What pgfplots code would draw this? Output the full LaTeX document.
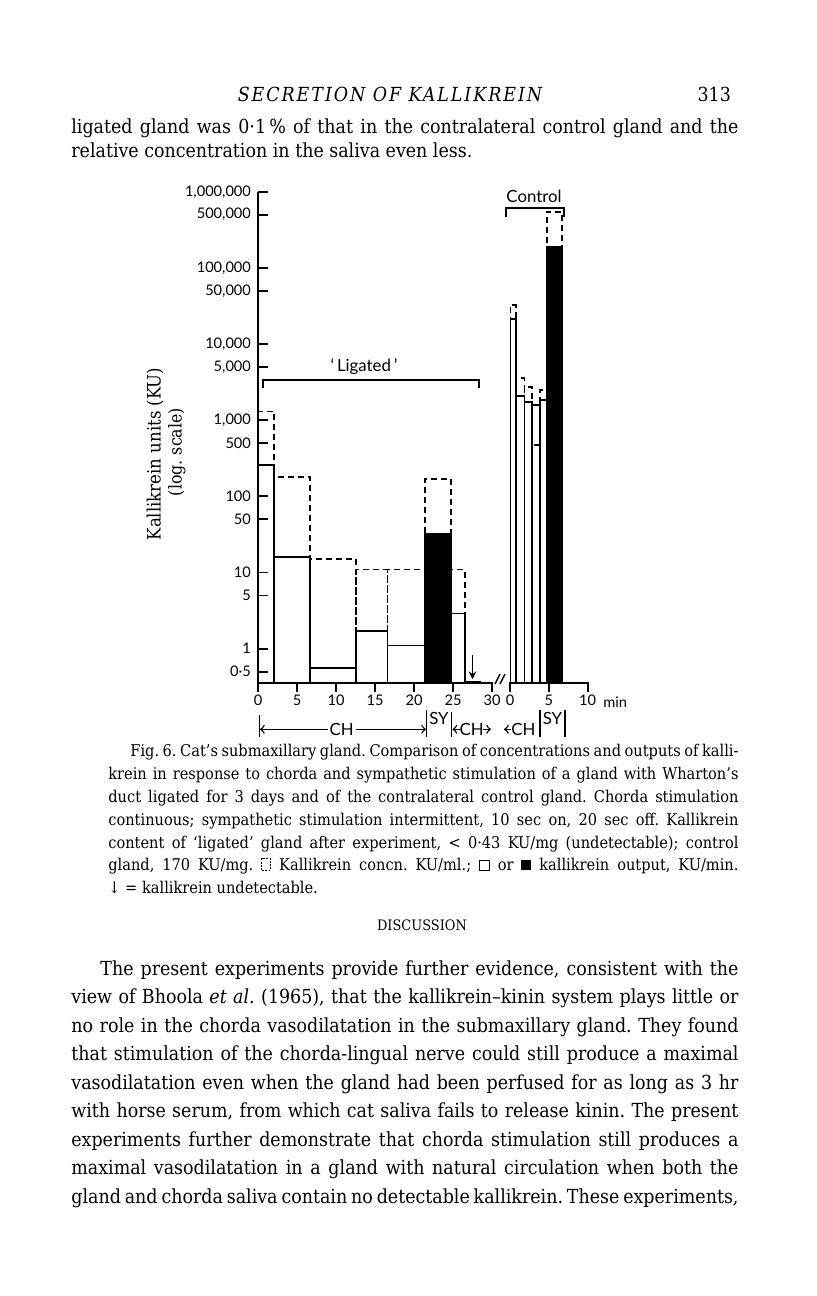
\documentclass[border=0pt]{standalone}
\usepackage{fontspec}
\setmainfont{DejaVu Serif Condensed}
\newfontfamily\chartfont{Lato}
\usepackage{pgfplots}
\pgfplotsset{compat=1.18}
\frenchspacing

\newcommand\bodyfs{\fontsize{9.7}{12}\selectfont}
\newcommand\capfs{\fontsize{8.1}{9.5}\selectfont}
\newcommand\lblfs{\chartfont\fontsize{7.3}{8.5}\selectfont}
\newcommand\annfs{\chartfont\fontsize{8.4}{9.5}\selectfont}
% justified line: x, y, width, text
\newcommand\bl[4]{\node[anchor=base west,inner sep=0pt,font=\bodyfs] at (#1,#2) {\makebox[#3][s]{#4}};}
\newcommand\cl[4]{\node[anchor=base west,inner sep=0pt,font=\capfs] at (#1,#2) {\makebox[#3][s]{#4}};}
\newcommand\concbox{\tikz[baseline=0pt]\draw[line width=0.4pt,dash pattern=on 0.9pt off 0.7pt] (0pt,0pt) rectangle (4.6pt,5.6pt);}
\newcommand\openbox{\tikz[baseline=0pt]\draw[line width=0.4pt] (0pt,0pt) rectangle (5pt,5pt);}
\newcommand\fullbox{\tikz[baseline=0pt]\fill (0pt,0pt) rectangle (5pt,5pt);}
% one bar: style, from, to, value (bottom at the axis floor 0.355)
\newcommand\kbar[4]{\addplot[#1] coordinates {(#2,0.355)(#2,#4)(#3,#4)(#3,0.355)};}

\tikzset{
  kout/.style={draw=black, fill=white, line width=0.9pt},
  ksy/.style={draw=black, fill=black, line width=0.9pt},
  kconc/.style={draw=black, line width=0.9pt, dash pattern=on 3pt off 2pt},
}

\begin{document}
\begin{tikzpicture}
\begin{scope}[x=0.5pt,y=0.5pt]
\path[fill=white] (0,0) rectangle (816,-1296);

% running head
\node[anchor=base,font=\bodyfs] at (390,-101) {\itshape\addfontfeature{LetterSpace=10}SECRETION OF KALLIKREIN};
\node[anchor=base east,font=\bodyfs] at (738,-101) {313};

\bl{71}{-133}{333.5pt}{ligated gland was 0·1\,\% of that in the contralateral control gland and the}
\node[anchor=base west,inner sep=0pt,font=\bodyfs] at (71,-157) {relative concentration in the saliva even less.};
\end{scope}

% ---------------- chart: 'ligated' gland ----------------
\begin{axis}[
    at={(129pt,-341.5pt)}, anchor=south west,
    scale only axis, width=117pt, height=245.65pt,
    ymode=log, ymin=0.355, ymax=1000000,
    xmin=0, xmax=30,
    axis on top,
    axis x line=bottom, axis y line=left,
    axis line style={-, line width=0.9pt},
    tick style={black, line width=0.9pt},
    tick align=inside,
    major tick length=5pt,
    xtick style={yshift=-4.5pt},
    yminorticks=false,
    tick label style={font=\lblfs},
    xticklabel style={yshift=-2.5pt},
    xtick={0,5,10,15,20,25,30},
    xticklabels={0,5,10,15,20,25,30},
    ytick={0.5,1,5,10,50,100,500,1000,5000,10000,50000,100000,500000,1000000},
    yticklabels={{0·5},1,5,10,50,100,500,{1,000},{5,000},{10,000},{50,000},{100,000},{500,000},{1,000,000}},
]
% output, KU/min
\kbar{kout}{0}{2.05}{260}
\kbar{kout}{2.05}{6.7}{16}
\kbar{kout}{6.7}{12.6}{0.56}
\kbar{kout}{12.6}{16.6}{1.7}
\kbar{kout}{16.6}{21.4}{1.1}
\kbar{ksy}{21.4}{24.7}{32}
\kbar{kout}{24.7}{26.5}{2.9}
% concentration, KU/ml
\kbar{kconc}{0}{2.05}{1300}
\kbar{kconc}{2.05}{6.7}{180}
\kbar{kconc}{6.7}{12.6}{15}
\kbar{kconc}{12.6}{16.6}{11}
\kbar{kconc}{16.6}{21.4}{11}
\kbar{kconc}{21.4}{24.7}{170}
\kbar{kconc}{24.7}{26.5}{11}
% undetectable
\addplot[line width=0.9pt] coordinates {(26.5,0.372)(28.6,0.372)};
\addplot[-stealth, line width=0.7pt] coordinates {(27.5,0.82)(27.5,0.40)};
\end{axis}

% ---------------- chart: control gland ----------------
\begin{axis}[
    at={(255pt,-341.5pt)}, anchor=south west,
    scale only axis, width=38.85pt, height=245.65pt,
    ymode=log, ymin=0.355, ymax=1000000,
    xmin=0, xmax=10,
    axis on top,
    axis x line=bottom, axis y line=none, ytick=\empty,
    axis line style={-, line width=0.9pt},
    tick style={black, line width=0.9pt},
    tick align=inside,
    major tick length=5pt,
    xtick style={yshift=-4.5pt},
    yminorticks=false,
    tick label style={font=\lblfs},
    xticklabel style={yshift=-2.5pt},
    xtick={0,5,10}, xticklabels={0,5,10},
]
\kbar{kout}{0}{0.77}{21500}
\kbar{kout}{0.77}{1.87}{2060}
\kbar{kout}{1.87}{2.84}{1750}
\kbar{kout}{2.84}{3.87}{1600}
\kbar{kout}{3.87}{4.74}{1850}
\kbar{ksy}{4.74}{6.71}{189000}
\kbar{kconc}{0}{0.77}{32200}
\kbar{kconc}{0.77}{1.87}{3560}
\kbar{kconc}{1.87}{2.84}{2760}
\kbar{kconc}{2.84}{3.87}{470}
\kbar{kconc}{3.87}{4.74}{2520}
\kbar{kconc}{4.74}{6.71}{548000}
\end{axis}

\begin{scope}[x=0.5pt,y=0.5pt]
% axis break and unit
\draw[line width=0.7pt] (495,-684) -- (500,-674) (500,-684) -- (505,-674);
\node[anchor=west,inner sep=0pt,font=\lblfs] at (603,-702) {min};

% brackets
\draw[line width=0.9pt] (262.7,-388) -- (262.7,-380) -- (479,-380) -- (479,-388);
\node[font=\annfs] at (364,-367) {‘\,Ligated\,’};
\draw[line width=0.9pt] (506,-217) -- (506,-208.3) -- (564,-208.3) -- (564,-217);
\node[font=\annfs] at (534,-196) {Control};

% y label
\node[rotate=90,font=\fontsize{9.2}{10}\selectfont] at (155,-454) {Kallikrein units (KU)};
\node[rotate=90,font=\fontsize{8.8}{10}\selectfont] at (177,-452) {(log. scale)};

% stimulation periods
\begin{scope}[line width=0.7pt]
\draw (259.3,-715) -- (259.3,-737);
\draw[<->] (260,-729.3) -- (426,-729.3);
\node[fill=white,inner sep=1pt,font=\annfs] at (341.7,-729.3) {CH};
\draw (426.7,-710) -- (426.7,-737);
\node[font=\annfs] at (439,-718) {SY};
\draw (451.7,-712) -- (451.7,-737);
\draw[<-] (452.5,-729.3) -- (460,-729.3);
\node[font=\annfs] at (471.7,-729.3) {CH};
\draw[->] (483,-729.3) -- (491,-729.3);
\draw[<-] (504,-729.3) -- (511,-729.3);
\node[font=\annfs] at (523.5,-729.3) {CH};
\draw (540,-710) -- (540,-737);
\node[font=\annfs] at (552.5,-718) {SY};
\draw (565,-710) -- (565,-737);
\end{scope}

% caption
\cl{130}{-756}{304pt}{Fig. 6. Cat’s submaxillary gland. Comparison of concentrations and outputs of kalli-}
\cl{108}{-779}{315pt}{krein in response to chorda and sympathetic stimulation of a gland with Wharton’s}
\cl{108}{-802}{315pt}{duct ligated for 3 days and of the contralateral control gland. Chorda stimulation}
\cl{108}{-825}{315pt}{continuous; sympathetic stimulation intermittent, 10 sec on, 20 sec off. Kallikrein}
\cl{108}{-848}{315pt}{content of ‘ligated’ gland after experiment, < 0·43 KU/mg (undetectable); control}
\cl{108}{-870}{315pt}{gland, 170 KU/mg. \concbox{} Kallikrein concn. KU/ml.; \openbox{} or \fullbox{} kallikrein output, KU/min.}
\node[anchor=base west,inner sep=0pt,font=\capfs] at (108,-893) {↓ = kallikrein undetectable.};

\node[anchor=base,font=\fontsize{7.2}{8}\selectfont] at (422,-930) {DISCUSSION};

% text
\bl{100}{-975}{319pt}{The present experiments provide further evidence, consistent with the}
\bl{71}{-1003.5}{333.5pt}{view of Bhoola \textit{et al.} (1965), that the kallikrein–kinin system plays little or}
\bl{71}{-1032}{333.5pt}{no role in the chorda vasodilatation in the submaxillary gland. They found}
\bl{71}{-1060.5}{333.5pt}{that stimulation of the chorda-lingual nerve could still produce a maximal}
\bl{71}{-1089}{333.5pt}{vasodilatation even when the gland had been perfused for as long as 3 hr}
\bl{71}{-1117.5}{333.5pt}{with horse serum, from which cat saliva fails to release kinin. The present}
\bl{71}{-1146}{333.5pt}{experiments further demonstrate that chorda stimulation still produces a}
\bl{71}{-1174.5}{333.5pt}{maximal vasodilatation in a gland with natural circulation when both the}
\bl{71}{-1203}{333.5pt}{gland and chorda saliva contain no detectable kallikrein. These experiments,}
\end{scope}
\end{tikzpicture}
\end{document}
